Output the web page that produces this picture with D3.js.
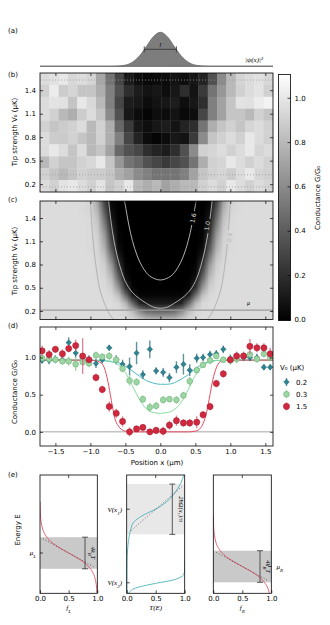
<!DOCTYPE html>
<html>
<head>
<meta charset="utf-8">
<script src="https://cdn.jsdelivr.net/npm/d3@7"></script>
<style>
  body { margin: 0; background: #fff; }
  svg text { font-family: "DejaVu Sans", sans-serif; font-size: 7px; fill: #000; }
  .serif { font-family: "Liberation Serif", "DejaVu Serif", serif; font-style: italic; }
</style>
</head>
<body>
<svg id="fig" width="330" height="625"></svg>
<script>
// ---------- data ----------
const xTicks = [-1.5, -1.0, -0.5, 0.0, 0.5, 1.0, 1.5];
const vTicks = [0.2, 0.5, 0.8, 1.1, 1.4];
const gTicks = [0.0, 0.5, 1.0];
const cbTicks = [0.0, 0.2, 0.4, 0.6, 0.8, 1.0];
const fTicks = [0.0, 0.5, 1.0];

// (a) density of the probe wavefunction
const psiX = [-1.72, -0.7, -0.6, -0.5, -0.4, -0.3, -0.2, -0.1, 0, 0.1, 0.2, 0.3, 0.4, 0.5, 0.6, 0.7, 1.61];
const psiY = [0, 0, 0.01, 0.035, 0.12, 0.3, 0.58, 0.87, 1, 0.87, 0.58, 0.3, 0.12, 0.035, 0.01, 0, 0];
const lBar = [-0.23, 0.23];

// (b) measured conductance map, rows top (high V0) to bottom
const bRowV0 = [1.55, 1.40, 1.25, 1.09, 0.94, 0.79, 0.63, 0.48, 0.33, 0.18];
const bColX = [-1.65, -1.52, -1.39, -1.25, -1.12, -0.99, -0.85, -0.72, -0.59, -0.45, -0.32, -0.19, -0.05,
               0.08, 0.21, 0.35, 0.48, 0.61, 0.75, 0.88, 1.01, 1.15, 1.28, 1.41, 1.55];
const bMap = [
  [0.95,0.97,1.00,0.93,0.95,0.92,0.72,0.50,0.30,0.12,0.06,0.04,0.05,0.05,0.08,0.06,0.10,0.15,0.35,0.60,0.80,0.92,0.95,0.97,0.93],
  [0.90,1.02,0.88,0.92,0.85,0.85,0.75,0.55,0.35,0.20,0.12,0.08,0.10,0.06,0.10,0.20,0.08,0.25,0.50,0.65,0.80,0.90,0.95,0.98,0.90],
  [0.95,0.98,0.97,0.85,1.00,0.93,0.80,0.55,0.30,0.12,0.10,0.05,0.08,0.10,0.12,0.06,0.10,0.20,0.55,0.70,0.85,0.98,0.97,1.02,1.05],
  [0.95,0.90,0.80,0.75,0.88,0.95,0.85,0.60,0.35,0.10,0.05,0.02,0.06,0.05,0.08,0.04,0.06,0.30,0.55,0.70,0.85,0.85,0.80,0.90,0.85],
  [0.90,0.85,0.88,0.90,0.95,0.80,0.90,0.75,0.45,0.25,0.10,0.06,0.10,0.12,0.08,0.15,0.20,0.50,0.75,0.85,0.90,0.85,0.92,0.95,0.90],
  [0.95,0.88,0.87,0.90,0.85,0.80,0.90,0.75,0.55,0.30,0.15,0.05,0.02,0.05,0.10,0.08,0.25,0.60,0.85,0.90,0.95,0.90,1.00,0.95,0.90],
  [0.95,1.00,0.95,0.85,0.95,0.80,0.85,0.70,0.45,0.35,0.30,0.20,0.15,0.12,0.20,0.35,0.60,0.90,0.92,0.95,0.90,0.95,1.00,0.92,0.95],
  [0.80,0.90,0.85,0.85,0.90,0.93,1.00,0.85,0.65,0.50,0.45,0.35,0.30,0.25,0.30,0.35,0.50,0.75,0.90,0.92,1.00,0.95,0.90,0.95,0.90],
  [0.90,0.85,0.80,0.85,0.90,0.88,0.88,0.85,0.75,0.70,0.60,0.55,0.50,0.50,0.50,0.55,0.70,0.85,0.90,0.92,0.88,0.95,1.00,0.92,0.90],
  [0.95,0.90,0.98,1.00,0.95,0.90,0.98,0.85,0.90,1.00,0.80,0.75,0.80,0.70,0.75,0.80,0.80,0.90,0.95,0.90,1.00,0.95,0.90,0.95,0.92]
];
const sliceV0 = [1.53, 0.32, 0.165];

// (c) theory map, half profile x = 0..1.8 (mirrored), rows V0 = 1.6 .. 0.1
const cHalfX = [0,0.1,0.2,0.3,0.4,0.5,0.6,0.7,0.8,0.9,1.0,1.1,1.2,1.3,1.4,1.5,1.6,1.7,1.8];
const cRowV0 = [1.6,1.5,1.4,1.3,1.2,1.1,1.0,0.9,0.8,0.7,0.6,0.5,0.4,0.3,0.2,0.1];
const cHalf = [
  [0,0,0,0,0,0,0,0.03,0.30,0.71,0.91,0.94,0.95,0.95,0.95,0.95,0.95,0.95,0.95],
  [0,0,0,0,0,0,0,0.06,0.39,0.77,0.92,0.94,0.95,0.95,0.95,0.95,0.95,0.95,0.95],
  [0,0,0,0,0,0,0,0.10,0.48,0.83,0.93,0.95,0.95,0.95,0.95,0.95,0.95,0.95,0.95],
  [0,0,0,0,0,0,0.01,0.16,0.56,0.86,0.94,0.95,0.95,0.95,0.95,0.95,0.95,0.95,0.95],
  [0,0,0,0,0,0,0.02,0.23,0.65,0.89,0.94,0.95,0.95,0.95,0.95,0.95,0.95,0.95,0.95],
  [0,0,0,0,0,0,0.03,0.30,0.71,0.91,0.94,0.95,0.95,0.95,0.95,0.95,0.95,0.95,0.95],
  [0,0,0,0,0,0,0.06,0.39,0.77,0.92,0.94,0.95,0.95,0.95,0.95,0.95,0.95,0.95,0.95],
  [0,0,0,0,0,0.01,0.13,0.52,0.84,0.93,0.95,0.95,0.95,0.95,0.95,0.95,0.95,0.95,0.95],
  [0,0,0,0,0,0.02,0.23,0.65,0.89,0.94,0.95,0.95,0.95,0.95,0.95,0.95,0.95,0.95,0.95],
  [0,0,0,0,0,0.04,0.34,0.74,0.91,0.94,0.95,0.95,0.95,0.95,0.95,0.95,0.95,0.95,0.95],
  [0,0,0,0,0,0.10,0.48,0.83,0.93,0.95,0.95,0.95,0.95,0.95,0.95,0.95,0.95,0.95,0.95],
  [0,0,0,0,0.02,0.23,0.65,0.89,0.94,0.95,0.95,0.95,0.95,0.95,0.95,0.95,0.95,0.95,0.95],
  [0.03,0.03,0.03,0.03,0.12,0.49,0.83,0.93,0.95,0.95,0.95,0.95,0.95,0.95,0.95,0.95,0.95,0.95,0.95],
  [0.12,0.12,0.12,0.17,0.46,0.79,0.93,0.95,0.95,0.95,0.95,0.95,0.95,0.95,0.95,0.95,0.95,0.95,0.95],
  [0.42,0.43,0.46,0.60,0.81,0.92,0.95,0.95,0.95,0.95,0.95,0.95,0.95,0.95,0.95,0.95,0.95,0.95,0.95],
  [0.76,0.76,0.78,0.85,0.91,0.94,0.95,0.95,0.95,0.95,0.95,0.95,0.95,0.95,0.95,0.95,0.95,0.95,0.95]
];
// contour lines (right branch, mirrored): [x, V0]
const contour16 = [[0,0.60],[0.15,0.65],[0.25,0.76],[0.33,0.91],[0.40,1.11],[0.45,1.31],[0.49,1.51],[0.51,1.62]];
const contour10 = [[0,0.235],[0.1,0.25],[0.2,0.3],[0.3,0.36],[0.4,0.44],[0.5,0.58],[0.6,0.85],[0.68,1.2],[0.74,1.62]];
const contour04 = [[0.67,0.09],[0.72,0.15],[0.8,0.3],[0.87,0.5],[0.93,0.85],[0.97,1.2],[1.0,1.62]];
const muLevel = 0.21;

// (d) line cuts
const posX = [-1.69,-1.59,-1.50,-1.40,-1.31,-1.21,-1.11,-1.02,-0.92,-0.83,-0.73,-0.63,-0.54,-0.44,-0.34,-0.25,-0.15,-0.06,
              0.04,0.13,0.23,0.33,0.42,0.52,0.61,0.71,0.80,0.90,1.00,1.09,1.19,1.28,1.38,1.48,1.57];
const gRed   = [1.09,1.04,1.11,1.05,1.12,1.16,1.02,0.97,0.73,0.57,0.34,0.25,0.14,0.00,0.04,0.06,0.00,0.02,
                0.01,0.09,0.15,0.12,0.12,0.13,0.23,0.34,0.65,0.78,0.97,1.02,1.02,1.15,1.13,1.13,1.05];
const eRed   = [0.07,0.06,0.04,0.06,0.05,0.08,0.24,0.04,0.05,0.05,0.07,0.06,0.07,0.06,0.04,0.04,0.04,0.05,
                0.06,0.06,0.07,0.05,0.05,0.08,0.05,0.05,0.05,0.05,0.04,0.06,0.06,0.10,0.06,0.06,0.08];
const gGreen = [0.99,0.98,0.97,0.95,0.95,0.91,0.94,0.92,1.03,1.01,1.02,0.97,0.85,0.69,0.67,0.44,0.33,0.35,
                0.43,0.44,0.43,0.49,0.68,0.83,0.90,0.96,1.02,0.97,0.96,0.98,1.02,1.04,0.98,1.05,1.00];
const eGreen = [0.04,0.05,0.05,0.05,0.06,0.09,0.05,0.05,0.05,0.04,0.05,0.06,0.05,0.07,0.05,0.05,0.06,0.05,
                0.05,0.04,0.05,0.05,0.06,0.05,0.04,0.05,0.04,0.04,0.06,0.06,0.05,0.05,0.05,0.05,0.05];
const gTeal  = [0.96,0.96,0.98,0.97,1.20,1.06,1.00,0.97,0.92,0.97,1.13,0.97,0.91,0.88,1.06,0.77,1.11,0.82,
                0.80,0.73,0.87,0.91,0.83,0.99,1.00,1.04,1.05,1.11,0.99,1.02,1.00,1.00,1.00,0.87,0.87];
const eTeal  = [0.04,0.05,0.05,0.05,0.07,0.06,0.06,0.06,0.06,0.05,0.04,0.06,0.06,0.12,0.15,0.06,0.12,0.05,
                0.06,0.06,0.08,0.14,0.08,0.06,0.05,0.05,0.05,0.05,0.05,0.05,0.05,0.05,0.05,0.04,0.04];
const fitX     = [-1.75,-1.2,-1.0,-0.9,-0.85,-0.8,-0.75,-0.7,-0.65,-0.6,-0.55,-0.5,-0.4,-0.3,-0.2,-0.1,0,0.1,0.2,0.3,0.4,0.5,0.55,0.6,0.65,0.7,0.75,0.8,0.85,0.9,1.0,1.2,1.65];
const fitRed   = [0.965,0.965,0.963,0.95,0.93,0.86,0.68,0.42,0.18,0.08,0.03,0.01,0,0,0,0,0,0,0,0,0,0.01,0.03,0.09,0.22,0.45,0.70,0.86,0.94,0.955,0.963,0.965,0.965];
const fitGreen = [0.965,0.965,0.965,0.963,0.96,0.96,0.955,0.95,0.93,0.9,0.86,0.8,0.62,0.44,0.31,0.26,0.25,0.26,0.30,0.40,0.57,0.76,0.83,0.89,0.92,0.94,0.95,0.96,0.962,0.963,0.965,0.965,0.965];
const fitTeal  = [0.965,0.965,0.963,0.96,0.958,0.955,0.95,0.94,0.935,0.93,0.91,0.88,0.82,0.75,0.69,0.655,0.64,0.64,0.66,0.71,0.77,0.85,0.88,0.91,0.93,0.945,0.955,0.96,0.962,0.963,0.965,0.965,0.965];
const seriesNames = ['0.2', '0.3', '1.5'];

// (e) energy diagrams (energies in units of kT)
const fermiU = [-8,-6,-5,-4,-3,-2.5,-2,-1.5,-1,-0.5,0,0.5,1,1.5,2,2.5,3,4,5,6,6.5];
const fermiF = [0.9997,0.9975,0.9933,0.982,0.9526,0.924,0.881,0.818,0.731,0.622,0.5,0.378,0.269,0.182,0.119,0.076,0.047,0.018,0.0067,0.0025,0.0015];
const upperE = [-5.1,0,2,3,3.8,4.5,5.2,5.54,6.5,7.5,8.8,9.87];
const upperT = [0.005,0.012,0.04,0.07,0.11,0.22,0.40,0.5,0.69,0.82,0.93,0.985];
const lowerE = [-5.1,-4.6,-4.27,-3.84,-3.42,-3.1,-2.78,-2.0,-1.0];
const lowerT = [0.03,0.1,0.23,0.5,0.8,0.92,0.98,1.0,1.0];
const muL = 0, muR = -1.71, vX1 = 5.54, vX2 = -3.77;
const fermiHalf = 2, transHalf = 3.18;

// ---------- scales ----------
const svg = d3.select('#fig');

const xPos = d3.scaleLinear().domain([-1.72, 1.61]).range([40, 273]);
const yA = d3.scaleLinear().domain([0, 1]).range([66.3, 32.3]);
const yB = d3.scaleLinear().domain([0.1, 1.62]).range([192, 73]);
const yC = d3.scaleLinear().domain([0.09, 1.62]).range([319.5, 201]);
const yD = d3.scaleLinear().domain([-0.19, 1.41]).range([446, 327]);
const grayOf = g => { const v = Math.round(Math.max(0, Math.min(1, g / 1.1)) * 255); return `rgb(${v},${v},${v})`; };

const defs = svg.append('defs');
function clipRect(id, x0, y0, x1, y1) {
  defs.append('clipPath').attr('id', id).append('rect')
    .attr('x', x0).attr('y', y0).attr('width', x1 - x0).attr('height', y1 - y0);
}

function axesBox(xs, ys, xt, yt, opt) {
  const [x0, x1] = xs.range(), [y0, y1] = ys.range();
  const style = g => {
    g.attr('font-size', 7).attr('font-family', '"DejaVu Sans",sans-serif');
    g.select('.domain').remove();
    g.selectAll('.tick line').attr('stroke', '#000').attr('stroke-width', 0.7);
  };
  const fmt = d3.format('.1f');
  svg.append('g').attr('transform', `translate(0,${y0})`)
    .call(d3.axisBottom(xs).tickValues(xt).tickSize(-3).tickPadding(3).tickFormat(opt.xLabels ? fmt : ''))
    .call(style);
  svg.append('g').attr('transform', `translate(0,${y1})`)
    .call(d3.axisTop(xs).tickValues(xt).tickSize(-3).tickFormat(''))
    .call(style);
  svg.append('g').attr('transform', `translate(${x0},0)`)
    .call(d3.axisLeft(ys).tickValues(yt).tickSize(-3).tickPadding(4).tickFormat(fmt))
    .call(style);
  svg.append('g').attr('transform', `translate(${x1},0)`)
    .call(d3.axisRight(ys).tickValues(yt).tickSize(-3).tickFormat(''))
    .call(style);
  svg.append('rect').attr('x', x0).attr('y', y1).attr('width', x1 - x0).attr('height', y0 - y1)
    .attr('fill', 'none').attr('stroke', '#000').attr('stroke-width', 0.8);
}

function panelLabel(t, y) {
  svg.append('text').attr('x', 8).attr('y', y).text(t);
}
function yLabel(t, x, y) {
  svg.append('text').attr('transform', `translate(${x},${y}) rotate(-90)`).attr('text-anchor', 'middle').text(t);
}

// ---------- (a) ----------
panelLabel('(a)', 33);
const psi = psiX.map((x, i) => [x, psiY[i]]);
svg.append('path').datum(psi)
  .attr('d', d3.area().x(d => xPos(d[0])).y0(yA(0)).y1(d => yA(d[1])).curve(d3.curveMonotoneX))
  .attr('fill', '#7d7d7d').attr('stroke', '#6a6a6a').attr('stroke-width', 0.8);
svg.append('line').attr('x1', xPos(-1.72)).attr('x2', xPos(1.61)).attr('y1', yA(0)).attr('y2', yA(0))
  .attr('stroke', '#777').attr('stroke-width', 1);
const lY = yA(0.5);
svg.append('line').attr('x1', xPos(lBar[0])).attr('x2', xPos(lBar[1])).attr('y1', lY).attr('y2', lY).attr('stroke', '#333').attr('stroke-width', 0.8);
lBar.forEach(v => svg.append('line').attr('x1', xPos(v)).attr('x2', xPos(v)).attr('y1', lY - 3).attr('y2', lY + 3).attr('stroke', '#333').attr('stroke-width', 0.8));
svg.append('text').attr('class', 'serif').attr('x', xPos(0)).attr('y', lY - 2).attr('text-anchor', 'middle').attr('fill', '#333').text('l');
svg.append('text').attr('class', 'serif').attr('x', 245).attr('y', 62).attr('fill', '#333').text('|ψ(x)|²');

// ---------- (b) ----------
panelLabel('(b)', 77);
const bandX = d3.scaleBand().domain(bColX).range(xPos.range());
const bandY = d3.scaleBand().domain(bRowV0).range([yB(1.62), yB(0.1)]);
bMap.forEach((row, r) => {
  svg.append('g').selectAll('rect').data(row).join('rect')
    .attr('x', (d, c) => bandX(bColX[c])).attr('y', bandY(bRowV0[r]))
    .attr('width', bandX.bandwidth() + 0.3).attr('height', bandY.bandwidth() + 0.3)
    .attr('fill', d => grayOf(d));
});
svg.append('g').selectAll('line').data(sliceV0).join('line')
  .attr('x1', xPos(-1.72)).attr('x2', xPos(1.61)).attr('y1', d => yB(d)).attr('y2', d => yB(d))
  .attr('stroke', '#9a9a9a').attr('stroke-width', 0.8).attr('stroke-dasharray', '1,2');
axesBox(xPos, yB, xTicks, vTicks, {});
yLabel('Tip strength V₀ (μK)', 17, 132);

// ---------- (c) ----------
panelLabel('(c)', 202);
clipRect('clipC', 40, 201, 273, 319.5);
const cv = document.createElement('canvas');
cv.width = cHalfX.length * 2 - 1; cv.height = cRowV0.length;
const ctx = cv.getContext('2d');
const img = ctx.createImageData(cv.width, cv.height);
cHalf.forEach((row, j) => {
  const full = row.slice(1).reverse().concat(row);
  full.forEach((g, i) => {
    const v = Math.round(Math.max(0, Math.min(1, g / 1.1)) * 255);
    const k = (j * cv.width + i) * 4;
    img.data[k] = v; img.data[k + 1] = v; img.data[k + 2] = v; img.data[k + 3] = 255;
  });
});
ctx.putImageData(img, 0, 0);
const step = 0.1, xMax = cHalfX[cHalfX.length - 1];
svg.append('image').attr('clip-path', 'url(#clipC)')
  .attr('href', cv.toDataURL())
  .attr('x', xPos(-xMax - step / 2)).attr('width', xPos(xMax + step / 2) - xPos(-xMax - step / 2))
  .attr('y', yC(cRowV0[0] + step / 2)).attr('height', yC(cRowV0[cRowV0.length - 1] - step / 2) - yC(cRowV0[0] + step / 2))
  .attr('preserveAspectRatio', 'none');

// contour labels (x, V0, angle)
const cLabels = [
  { t: '1.6', x: 0.47, v: 1.40, a: -78, c: '#e6e6e6' },
  { t: '1.0', x: 0.67, v: 1.30, a: -80, c: '#d8d8d8' },
  { t: '0.4', x: 0.99, v: 1.15, a: -84, c: '#b5b5b5' }
];
const mask = defs.append('mask').attr('id', 'labMask');
mask.append('rect').attr('x', 0).attr('y', 0).attr('width', 330).attr('height', 625).attr('fill', '#fff');
cLabels.forEach(l => mask.append('rect').attr('x', -7).attr('y', -3.5).attr('width', 14).attr('height', 7)
  .attr('fill', '#000').attr('transform', `translate(${xPos(l.x)},${yC(l.v)}) rotate(${l.a})`));

const cLine = d3.line().x(d => xPos(d[0])).y(d => yC(d[1])).curve(d3.curveCatmullRom);
const mirror = pts => pts.slice(1).reverse().map(d => [-d[0], d[1]]).concat(pts);
const gC = svg.append('g').attr('clip-path', 'url(#clipC)');
const gCm = gC.append('g').attr('mask', 'url(#labMask)');
gCm.append('path').attr('d', cLine(mirror(contour16))).attr('fill', 'none').attr('stroke', '#d9d9d9').attr('stroke-width', 0.8);
gCm.append('path').attr('d', cLine(mirror(contour10))).attr('fill', 'none').attr('stroke', '#cfcfcf').attr('stroke-width', 0.8);
gCm.append('path').attr('d', cLine(contour04)).attr('fill', 'none').attr('stroke', '#a8a8a8').attr('stroke-width', 0.8);
gCm.append('path').attr('d', cLine(contour04.map(d => [-d[0], d[1]]))).attr('fill', 'none').attr('stroke', '#a8a8a8').attr('stroke-width', 0.8);
gC.append('line').attr('x1', 40).attr('x2', 273).attr('y1', yC(muLevel)).attr('y2', yC(muLevel))
  .attr('stroke', '#9c9c9c').attr('stroke-width', 1.2);
cLabels.forEach(l => svg.append('text').attr('transform', `translate(${xPos(l.x)},${yC(l.v)}) rotate(${l.a})`)
  .attr('text-anchor', 'middle').attr('dy', '0.35em').style('fill', l.c).style('font-size', '6px').text(l.t));
svg.append('text').attr('class', 'serif').attr('x', 247).attr('y', 305).style('font-size', '6px').attr('fill', '#444').text('μ');
axesBox(xPos, yC, xTicks, vTicks, {});
yLabel('Tip strength V₀ (μK)', 17, 261);

// colorbar
const cbY = d3.scaleLinear().domain([-0.005, 1.105]).range([320.5, 74.5]);
const grad = defs.append('linearGradient').attr('id', 'cbGrad').attr('x1', 0).attr('x2', 0).attr('y1', 1).attr('y2', 0);
grad.append('stop').attr('offset', 0).attr('stop-color', '#000');
grad.append('stop').attr('offset', 1).attr('stop-color', '#fff');
svg.append('rect').attr('x', 278.5).attr('y', 74.5).attr('width', 12).attr('height', 246)
  .attr('fill', 'url(#cbGrad)').attr('stroke', '#000').attr('stroke-width', 0.8);
svg.append('g').attr('transform', 'translate(290.5,0)')
  .call(d3.axisRight(cbY).tickValues(cbTicks).tickSize(-3).tickPadding(4).tickFormat(d3.format('.1f')))
  .call(g => { g.attr('font-size', 7).attr('font-family', '"DejaVu Sans",sans-serif'); g.select('.domain').remove();
    g.selectAll('.tick line').attr('stroke', '#000').attr('stroke-width', 0.7); });
svg.append('text').attr('transform', 'translate(320,198) rotate(-90)').attr('text-anchor', 'middle').text('Conductance G/G₀');

// ---------- (d) ----------
panelLabel('(d)', 328);
clipRect('clipD', 40, 327, 273, 446);
svg.append('line').attr('x1', 40).attr('x2', 273).attr('y1', yD(0)).attr('y2', yD(0))
  .attr('stroke', '#c4c4c4').attr('stroke-width', 1.5);
const diamond = d3.symbol(d3.symbolSquare, 15);
const series = [
  { g: gTeal, e: eTeal, fit: fitTeal, fill: '#2d8494', edge: '#1c5d69', bar: '#2a6e7b', line: '#4fbcc6', sym: diamond, rot: 45 },
  { g: gGreen, e: eGreen, fit: fitGreen, fill: '#9cd6a2', edge: '#65a870', bar: '#8cc596', line: '#86dca0', sym: d3.symbol(d3.symbolCircle, 26), rot: 0 },
  { g: gRed, e: eRed, fit: fitRed, fill: '#d0283e', edge: '#9f1b2c', bar: '#d36077', line: '#e84c64', sym: d3.symbol(d3.symbolCircle, 30), rot: 0 }
];
const gD = svg.append('g').attr('clip-path', 'url(#clipD)');
const fitLine = d3.line().x((d, i) => xPos(fitX[i])).y(d => yD(d)).curve(d3.curveMonotoneX);
series.forEach(s => {
  gD.append('path').datum(s.fit).attr('d', fitLine).attr('fill', 'none').attr('stroke', s.line).attr('stroke-width', 1);
});
series.forEach(s => {
  const gs = gD.append('g');
  gs.selectAll('line').data(s.g).join('line')
    .attr('x1', (d, i) => xPos(posX[i])).attr('x2', (d, i) => xPos(posX[i]))
    .attr('y1', (d, i) => yD(d - s.e[i])).attr('y2', (d, i) => yD(d + s.e[i]))
    .attr('stroke', s.bar).attr('stroke-opacity', 0.75).attr('stroke-width', 1.4);
  gs.selectAll('path').data(s.g).join('path')
    .attr('transform', (d, i) => `translate(${xPos(posX[i])},${yD(d)}) rotate(${s.rot})`)
    .attr('d', s.sym)
    .attr('fill', s.fill).attr('stroke', s.edge).attr('stroke-width', 0.5);
});
axesBox(xPos, yD, xTicks, gTicks, { xLabels: true });
yLabel('Conductance G/G₀', 17, 392);
svg.append('text').attr('x', 157).attr('y', 465).attr('text-anchor', 'middle').text('Position x (μm)');
// legend
svg.append('text').attr('x', 280).attr('y', 370).text('V₀ (μK)');
series.forEach((s, i) => {
  const ly = 382 + i * 12.2;
  svg.append('line').attr('x1', 286.5).attr('x2', 286.5).attr('y1', ly - 4).attr('y2', ly + 4)
    .attr('stroke', s.bar).attr('stroke-opacity', 0.75).attr('stroke-width', 1.4);
  svg.append('path').attr('transform', `translate(286.5,${ly}) rotate(${s.rot})`).attr('d', s.sym)
    .attr('fill', s.fill).attr('stroke', s.edge).attr('stroke-width', 0.5);
  svg.append('text').attr('x', 296).attr('y', ly + 2.5).text(seriesNames[i]);
});

// ---------- (e) ----------
panelLabel('(e)', 477);
const yE = d3.scaleLinear().domain([-5.1, 9.87]).range([593.3, 475]);
const xE = [
  d3.scaleLinear().domain([0, 1]).range([40, 97.3]),
  d3.scaleLinear().domain([0, 1]).range([126.7, 184.7]),
  d3.scaleLinear().domain([0, 1]).range([213.3, 271.3])
];
xE.forEach((xs, i) => clipRect('clipE' + i, xs.range()[0], 475, xs.range()[1], 593.3));

function band(xs, lo, hi, fill) {
  svg.append('rect').attr('x', xs.range()[0]).attr('width', xs.range()[1] - xs.range()[0])
    .attr('y', yE(hi)).attr('height', yE(lo) - yE(hi)).attr('fill', fill);
}
function ibeam(x, lo, hi) {
  const g = svg.append('g').attr('stroke', '#333').attr('stroke-width', 0.8);
  g.append('line').attr('x1', x).attr('x2', x).attr('y1', yE(lo)).attr('y2', yE(hi));
  [lo, hi].forEach(v => g.append('line').attr('x1', x - 3).attr('x2', x + 3).attr('y1', yE(v)).attr('y2', yE(v)));
}
function dashed(xs, t0, e0, t1, e1) {
  svg.append('line').attr('x1', xs(t0)).attr('y1', yE(e0)).attr('x2', xs(t1)).attr('y2', yE(e1))
    .attr('stroke', '#333').attr('stroke-width', 0.7).attr('stroke-dasharray', '1,2');
}
function rotLabel(x, y, parts) {
  const t = svg.append('text').attr('transform', `translate(${x},${y}) rotate(90)`).attr('text-anchor', 'middle')
    .attr('class', 'serif').style('font-size', '6.5px');
  parts.forEach(p => {
    const s = t.append('tspan').text(p[0]);
    if (p[1]) s.attr('baseline-shift', 'sub').style('font-size', '4.5px');
  });
}

// left: f_L
band(xE[0], muL - fermiHalf, muL + fermiHalf, '#c9c9c9');
const fermiLineL = d3.line().x((d, i) => xE[0](fermiF[i])).y(d => yE(muL + d)).curve(d3.curveCatmullRom);
svg.append('path').datum(fermiU).attr('clip-path', 'url(#clipE0)').attr('d', fermiLineL)
  .attr('fill', 'none').attr('stroke', '#e2435b').attr('stroke-width', 0.8);
dashed(xE[0], 0.05, muL + 1.8, 0.95, muL - 1.8);
ibeam(85, muL - fermiHalf, muL + fermiHalf);
rotLabel(90.5, yE(muL), [['4k'], ['B', true], ['T']]);

// middle: transmission
band(xE[1], vX1 - transHalf, vX1 + transHalf, '#e8e8e8');
const tLine = (E, T) => d3.line().x((d, i) => xE[1](T[i])).y(d => yE(d)).curve(d3.curveCatmullRom)(E);
svg.append('path').attr('clip-path', 'url(#clipE1)').attr('d', tLine(upperE, upperT))
  .attr('fill', 'none').attr('stroke', '#3aaab5').attr('stroke-width', 0.8);
svg.append('path').attr('clip-path', 'url(#clipE1)').attr('d', tLine(lowerE, lowerT))
  .attr('fill', 'none').attr('stroke', '#3aaab5').attr('stroke-width', 0.8);
dashed(xE[1], 0.08, vX1 - transHalf * 0.84, 0.95, vX1 + transHalf * 0.9);
ibeam(172.3, vX1 - transHalf, vX1 + transHalf);
svg.append('text').attr('transform', `translate(178.5,${yE(vX1)}) rotate(90)`).attr('text-anchor', 'middle')
  .attr('class', 'serif').style('font-size', '6.5px').text('2ħΩ(x₁)/π');

// right: f_R
band(xE[2], muR - fermiHalf, muR + fermiHalf, '#c9c9c9');
const fermiLineR = d3.line().x((d, i) => xE[2](fermiF[i])).y(d => yE(muR + d)).curve(d3.curveCatmullRom);
svg.append('path').datum(fermiU).attr('clip-path', 'url(#clipE2)').attr('d', fermiLineR)
  .attr('fill', 'none').attr('stroke', '#e2435b').attr('stroke-width', 0.8);
dashed(xE[2], 0.05, muR + 1.8, 0.95, muR - 1.8);
ibeam(260, muR - fermiHalf, muR + fermiHalf);
rotLabel(265.5, yE(muR), [['4k'], ['B', true], ['T']]);

// frames and ticks for (e)
xE.forEach(xs => {
  const g = svg.append('g').attr('transform', 'translate(0,593.3)')
    .call(d3.axisBottom(xs).tickValues(fTicks).tickSize(-3).tickPadding(3).tickFormat(d3.format('.1f')));
  g.attr('font-size', 7).attr('font-family', '"DejaVu Sans",sans-serif');
  g.select('.domain').remove();
  g.selectAll('.tick line').attr('stroke', '#000').attr('stroke-width', 0.7);
  svg.append('line').attr('x1', xs(0.5)).attr('x2', xs(0.5)).attr('y1', 475).attr('y2', 478).attr('stroke', '#000').attr('stroke-width', 0.7);
  svg.append('rect').attr('x', xs.range()[0]).attr('y', 475).attr('width', xs.range()[1] - xs.range()[0]).attr('height', 118.3)
    .attr('fill', 'none').attr('stroke', '#000').attr('stroke-width', 0.8);
});
const ytick = (x, v, dir) => svg.append('line').attr('x1', x).attr('x2', x + 3 * dir).attr('y1', yE(v)).attr('y2', yE(v)).attr('stroke', '#000').attr('stroke-width', 0.7);
ytick(40, muL, 1); ytick(126.7, vX1, 1); ytick(126.7, vX2, 1); ytick(271.3, muR, -1);

function mathLabel(x, y, anchor, main, sub, extra) {
  const t = svg.append('text').attr('class', 'serif').attr('x', x).attr('y', y).attr('text-anchor', anchor);
  t.append('tspan').text(main);
  if (sub) t.append('tspan').attr('baseline-shift', 'sub').style('font-size', '5px').text(sub);
  if (extra) t.append('tspan').text(extra);
}
mathLabel(36, yE(muL) + 2.5, 'end', 'μ', 'L');
mathLabel(276.5, yE(muR) + 2.5, 'start', 'μ', 'R');
mathLabel(122, yE(vX1) + 2.5, 'end', 'V(x', '1', ')');
mathLabel(122, yE(vX2) + 2.5, 'end', 'V(x', '2', ')');
mathLabel(xE[0](0.5), 610, 'middle', 'f', 'L');
mathLabel(xE[1](0.5), 610, 'middle', 'T(E)');
mathLabel(xE[2](0.5), 610, 'middle', 'f', 'R');
yLabel('Energy E', 20, 530);
</script>
</body>
</html>
